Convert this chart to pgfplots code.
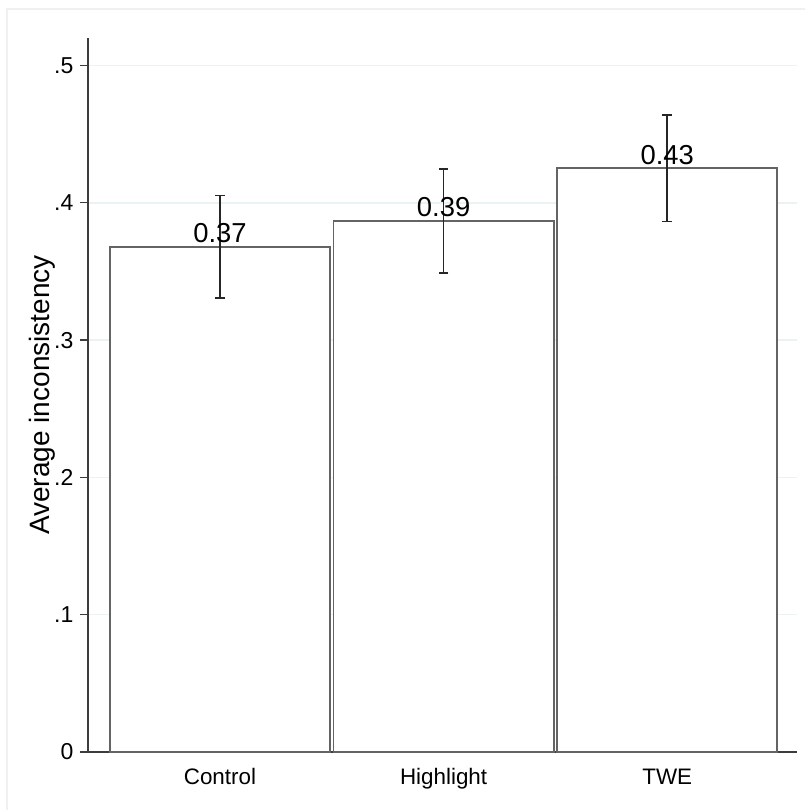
\documentclass[border=0pt]{standalone}
\usepackage{pgfplots}
\pgfplotsset{compat=1.18}
\usepackage{fontspec}
\setmainfont{Liberation Sans}
\definecolor{gridc}{RGB}{234,242,243}
\definecolor{barline}{RGB}{100,100,100}
\definecolor{axc}{RGB}{60,60,60}
\begin{document}
\begin{tikzpicture}
\path[use as bounding box] (-44pt,-29pt) rectangle (358.5pt,376pt);
\draw[color=black!6, line width=0.6pt] (-40.5pt,-29pt) -- (-40.5pt,371.5pt) -- (358.5pt,371.5pt);
\begin{axis}[
  at={(0pt,0pt)}, anchor=south west,
  scale only axis, width=354.5pt, height=357pt,
  xmin=-0.59, xmax=2.58, ymin=0, ymax=0.52,
  axis x line*=bottom, axis y line*=left,
  axis line style={color=axc, line width=0.7pt},
  xtick={0,1,2}, xticklabels={Control,Highlight,TWE},
  x tick style={draw=none},
  xticklabel style={font=\fontsize{11.2}{13}\selectfont, yshift=-1pt},
  ytick={0,0.1,0.2,0.3,0.4,0.5}, yticklabels={0,.1,.2,.3,.4,.5},
  yticklabel style={font=\fontsize{11.5}{13}\selectfont},
  y tick style={color=axc, line width=0.7pt},
  tick align=outside, major tick length=3.8pt, ytick pos=left,
  ymajorgrids, grid style={color=gridc, line width=0.8pt},
  ylabel={Average inconsistency},
  ylabel style={font=\fontsize{14}{16}\selectfont, at={(axis description cs:-0.065,0.5)}, anchor=center},
  /pgf/number format/assume math mode=true,
]
\addplot[ybar, bar width=0.984, bar shift=0pt, fill=white, draw=barline, line width=0.85pt,
  error bars/.cd, y dir=both, y explicit,
  error bar style={color=black!85, line width=0.8pt},
  error mark options={rotate=90, mark size=2.4pt, line width=0.8pt, color=black!85}]
  coordinates {
    (0,0.3680) +- (0,0.0373)
    (1,0.3868) +- (0,0.0378)
    (2,0.4252) +- (0,0.0388)
  };
\addplot[only marks, mark=none, point meta=explicit symbolic,
  nodes near coords,
  every node near coord/.append style={anchor=base, yshift=2pt, inner sep=0pt, font=\fontsize{13.7}{15}\selectfont, text=black}]
  coordinates {
    (0,0.3680) [0.37]
    (1,0.3868) [0.39]
    (2,0.4252) [0.43]
  };
\end{axis}
\end{tikzpicture}
\end{document}
